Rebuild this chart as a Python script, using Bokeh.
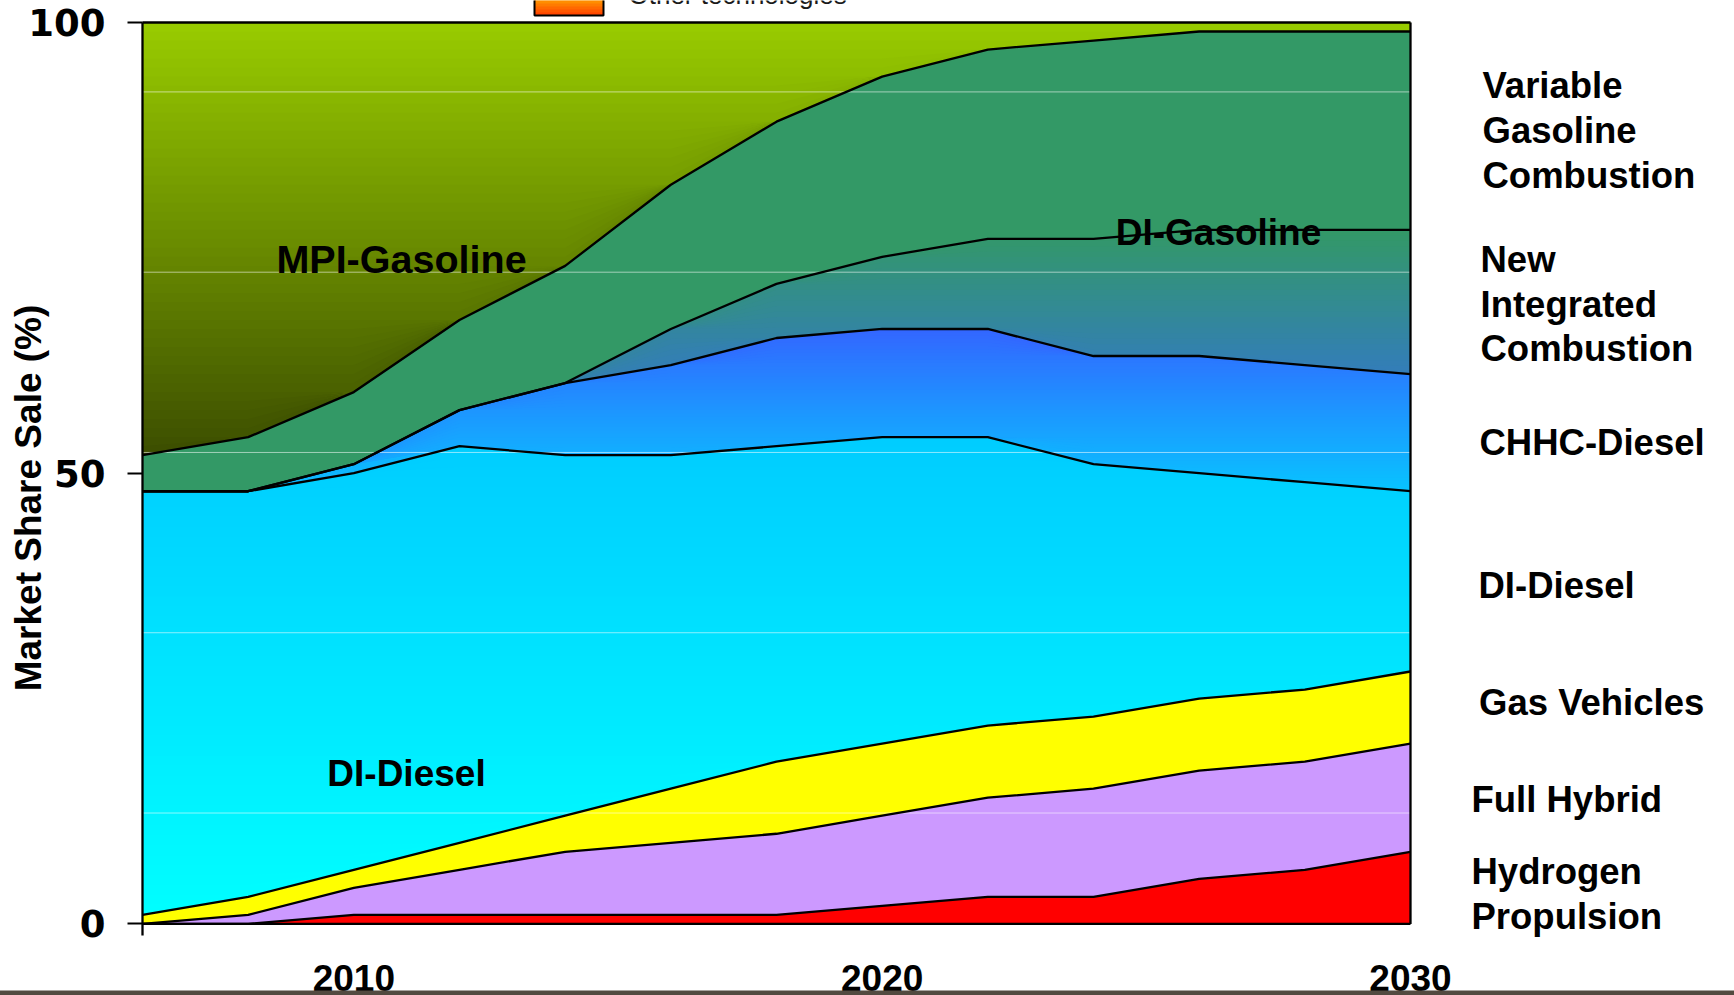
import numpy as np
from bokeh.plotting import figure
from bokeh.models import Range1d, FixedTicker, ColumnDataSource
from bokeh.core.properties import value
from bokeh.embed import file_html
from bokeh.resources import INLINE

# ---- market share of new car sales by powertrain technology (%) ----
YEARS = [2006, 2008, 2010, 2012, 2014, 2016, 2018, 2020, 2022, 2024, 2026, 2028, 2030]
HYDROGEN = [0, 0, 1, 1, 1, 1, 1, 2, 3, 3, 5, 6, 8]
FULL_HYBRID = [0, 1, 3, 5, 7, 8, 9, 10, 11, 12, 12, 12, 12]
GAS_VEHICLES = [1, 2, 2, 3, 4, 6, 8, 8, 8, 8, 8, 8, 8]
DI_DIESEL = [47, 45, 44, 44, 40, 37, 35, 34, 32, 28, 25, 23, 20]
CHHC_DIESEL = [0, 0, 1, 4, 8, 10, 12, 12, 12, 12, 13, 13, 13]
NEW_INTEGRATED = [0, 0, 0, 0, 0, 4, 6, 8, 10, 13, 14, 15, 16]
GASOLINE_DI_VAR = [4, 6, 8, 10, 13, 16, 18, 20, 21, 22, 22, 22, 22]
MPI_GASOLINE = [48, 46, 41, 33, 27, 18, 11, 6, 3, 2, 1, 1, 1]

X_TICKS = [2010, 2020, 2030]
Y_TICKS = [0, 50, 100]
GRID_Y = [12.3, 32.3, 52.3, 72.3, 92.3]

IN_LABELS = ["MPI-Gasoline", "DI-Gasoline", "DI-Diesel"]
RIGHT_LABELS = ["Variable\nGasoline\nCombustion", "New\nIntegrated\nCombustion",
                "CHHC-Diesel", "DI-Diesel", "Gas Vehicles", "Full Hybrid",
                "Hydrogen\nPropulsion"]

# ---- fills: solid colour or (bottom, top) vertical gradient ----
LAYERS = [
    (HYDROGEN, "#FF0000"),
    (FULL_HYBRID, "#CC99FF"),
    (GAS_VEHICLES, "#FFFF00"),
    (DI_DIESEL, ("#00FFFF", "#00CCFF")),
    (CHHC_DIESEL, ("#08C4FF", "#3366FF")),
    (NEW_INTEGRATED, ("#3366FF", "#339966")),
    (GASOLINE_DI_VAR, "#339966"),
    (MPI_GASOLINE, ("#3C4E00", "#99CC00")),
]

# ---- canvas geometry (pixels) ----
W, H = 1734, 995
X0_PX, PX_PER_YEAR = 142.0, 52.833
Y0_PX, PX_PER_PCT = 923.4, 9.014


def px_x(px):
    return YEARS[0] + (px - X0_PX) / PX_PER_YEAR


def px_y(py):
    return (Y0_PX - py) / PX_PER_PCT


def hex_rgb(c):
    c = c.lstrip("#")
    return np.array([int(c[i:i + 2], 16) for i in (0, 2, 4)], float)


def mix(c1, c2, t):
    r = hex_rgb(c1) * (1 - t) + hex_rgb(c2) * t
    return "#%02x%02x%02x" % tuple(int(round(v)) for v in r)


p = figure(width=W, height=H, output_backend="svg", toolbar_location=None,
           x_range=Range1d(px_x(0), px_x(W)), y_range=Range1d(px_y(H), px_y(0)),
           min_border=0, outline_line_color=None,
           background_fill_color="white", border_fill_color="white")


def fill_layer(lower, upper, fill, n=48):
    if isinstance(fill, str):
        p.varea(x=YEARS, y1=lower, y2=upper, fill_color=fill)
        return
    c_bot, c_top = fill
    v_bot, v_top = lower.min(), upper.max()
    p.varea(x=YEARS, y1=lower, y2=upper, fill_color=mix(c_bot, c_top, 0.5))
    edges = np.linspace(v_bot, v_top, n + 1)
    for k in range(n):
        lo = np.clip(edges[k], lower, upper)
        hi = np.clip(edges[k + 1] + 0.25, lower, upper)
        if np.all(hi - lo <= 1e-9):
            continue
        p.varea(x=YEARS, y1=lo, y2=hi, fill_color=mix(c_bot, c_top, (k + 0.5) / n))


# stacked areas
base = np.zeros(len(YEARS))
bounds = [base.copy()]
for vals, fill in LAYERS:
    top = base + np.asarray(vals, float)
    fill_layer(base, top, fill)
    bounds.append(top)
    base = top

# faint horizontal gridlines
p.segment(x0=YEARS[0], x1=YEARS[-1], y0="y", y1="y",
          source=ColumnDataSource(dict(y=GRID_Y)),
          line_color="white", line_alpha=0.55, line_width=1)

# black outlines of every band
for b in bounds:
    p.line(YEARS, b, line_color="black", line_width=2.3, line_join="round")
p.segment(x0=YEARS[-1], y0=0, x1=YEARS[-1], y1=100, line_color="black", line_width=2.3)
p.segment(x0=YEARS[0], y0=px_y(935), x1=YEARS[0], y1=100, line_color="black", line_width=2.3)

# labels inside the chart
in_src = ColumnDataSource(dict(
    x=[px_x(401), px_x(1218), px_x(406)],
    y=[px_y(258), px_y(232), px_y(773)],
    size=["39.5px", "37px", "37px"],
    text=IN_LABELS))
p.text(x="x", y="y", text="text", source=in_src, text_font=value("Liberation Sans"),
       text_font_style="bold", text_font_size="size", text_align="center",
       text_baseline="alphabetic", text_color="black")

# technology names on the right
anchor_px = [(1482, 85.4), (1480, 259), (1479, 441.5), (1478, 585),
             (1478.5, 701.5), (1471, 799), (1471, 871)]
LINE_GAP = 44.6
rx, ry, rt = [], [], []
for label, (ax, ay) in zip(RIGHT_LABELS, anchor_px):
    for i, line in enumerate(label.split("\n")):
        rx.append(px_x(ax))
        ry.append(px_y(ay + i * LINE_GAP))
        rt.append(line)
p.text(x="x", y="y", text="text", source=ColumnDataSource(dict(x=rx, y=ry, text=rt)),
       text_font=value("Liberation Sans"), text_font_style="bold", text_font_size="36.5px",
       text_align="left", text_baseline="alphabetic", text_color="black")

# legend entry running off the top edge
sw_l, sw_r = px_x(534), px_x(603)
for k in range(6):
    p.quad(left=sw_l, right=sw_r, bottom=px_y(15 - 3 * k), top=px_y(15 - 3 * (k + 1)) + 0.05,
           fill_color=mix("#FF3C00", "#FFA800", (k + 0.5) / 6), line_color=None)
p.line([sw_l, sw_l, sw_r, sw_r], [px_y(-5), px_y(15), px_y(15), px_y(-5)],
       line_color="black", line_width=2)
p.text(x=[px_x(628)], y=[px_y(-6)], text=["Other technologies"],
       text_font=value("Liberation Sans"), text_font_size="26px",
       text_align="left", text_baseline="alphabetic", text_color="#1a1a1a")

# axes
p.xgrid.visible = False
p.ygrid.visible = False

xa = p.xaxis[0]
xa.fixed_location = 0
xa.ticker = FixedTicker(ticks=X_TICKS)
xa.axis_line_color = None
xa.major_tick_in = 0
xa.major_tick_out = 0
xa.minor_tick_line_color = None
xa.major_label_standoff = 41
xa.major_label_text_font = "Liberation Sans"
xa.major_label_text_font_style = "bold"
xa.major_label_text_font_size = "37px"
xa.major_label_text_color = "black"

ya = p.yaxis[0]
ya.fixed_location = YEARS[0]
ya.ticker = FixedTicker(ticks=Y_TICKS)
ya.axis_line_color = None
ya.major_tick_in = 0
ya.major_tick_out = 15
ya.major_tick_line_color = "black"
ya.major_tick_line_width = 2
ya.minor_tick_line_color = None
ya.major_label_standoff = 22
ya.major_label_text_font = "DejaVu Sans"
ya.major_label_text_font_style = "bold"
ya.major_label_text_font_size = "37px"
ya.major_label_text_color = "black"
ya.axis_label = "Market Share Sale (%)"
ya.axis_label_text_font = "Liberation Sans"
ya.axis_label_text_font_style = "bold"
ya.axis_label_text_font_size = "37px"
ya.axis_label_text_color = "black"
ya.axis_label_standoff = -24

# dark strip along the bottom edge
bar = p.quad(left=px_x(-5), right=px_x(W + 5), bottom=px_y(H + 5), top=px_y(990),
             fill_color="#524A40", line_color=None)
bar.level = "overlay"

open("out.html", "w").write(file_html(p, INLINE))
